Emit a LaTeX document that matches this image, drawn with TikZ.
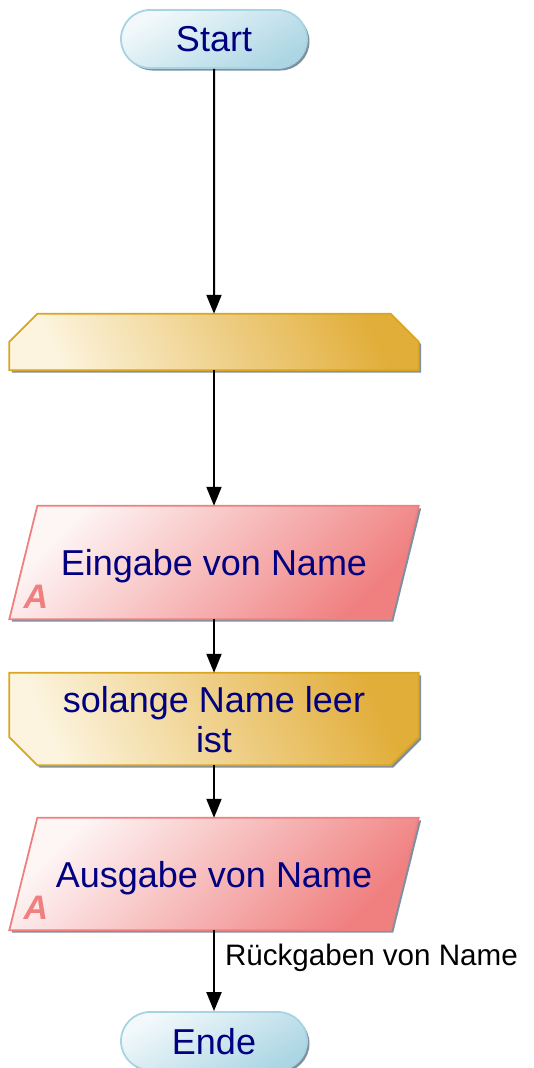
\documentclass[tikz,border=0pt]{standalone}
\usepackage{fontspec}
\setmainfont{Liberation Sans}
\usetikzlibrary{shapes.misc,shadows,arrows.meta,backgrounds}
\definecolor{navy}{RGB}{0,0,128}
\definecolor{termline}{RGB}{166,212,226}
\definecolor{termdark}{RGB}{172,214,228}
\definecolor{loopline}{RGB}{218,165,32}
\definecolor{looplight}{RGB}{252,244,222}
\definecolor{loopmid}{RGB}{238,211,142}
\definecolor{loopdark}{RGB}{226,174,58}
\definecolor{ioline}{RGB}{240,128,128}
\definecolor{shadowgray}{RGB}{128,144,160}
\tikzset{
  shadowed/.style={drop shadow={shadow xshift=2.5pt,shadow yshift=-2.5pt,fill=shadowgray,opacity=1}},
  slot/.style={rectangle,inner sep=0pt,text=navy,font=\fontsize{36}{40}\selectfont,align=center,text depth=0pt,
    minimum width=409pt},
  term/.style={slot,rounded rectangle,draw=termline,line width=1.8pt,shadowed,
    top color=white!85!termdark,bottom color=termdark,shading angle=30,minimum width=186pt,minimum height=58pt},
  loopshape/.style={draw=loopline,line width=1.8pt,shadowed,
    left color=looplight,middle color=loopmid,right color=loopdark,shading angle=115},
  ioshape/.style={draw=ioline,line width=1.8pt,shadowed,
    top color=white!92!ioline,bottom color=ioline,shading angle=45},
  flow/.style={line width=2pt,-{Triangle[length=19pt,width=15pt]}},
  amark/.style={text=ioline,font=\fontsize{34}{40}\selectfont\bfseries\itshape,inner sep=0pt,anchor=base west},
}
\begin{document}
\begin{tikzpicture}[x=1pt,y=1pt]
\useasboundingbox (0,0) rectangle (533,-1068);
%
\node[term] (start) at (214,-39) {Start};
\node[slot,minimum height=56pt] (loopA) at (214,-342) {};
\node[slot,minimum height=113pt] (in) at (214,-562.5) {Eingabe von Name};
\node[amark] (inA) at ([xshift=14pt,yshift=11pt]in.south west) {A};
\node[slot,minimum height=92pt] (loopB) at (214,-719) {solange Name leer\\ist};
\node[slot,minimum height=112pt] (out) at (214,-874) {Ausgabe von Name};
\node[amark] (outA) at ([xshift=14pt,yshift=11pt]out.south west) {A};
\node[term] (ende) at (214,-1041) {Ende};
%
\begin{scope}[on background layer]
\path[loopshape] ([yshift=-28pt]loopA.north west) -- ([xshift=28pt]loopA.north west)
  -- ([xshift=-28pt]loopA.north east) -- ([yshift=-28pt]loopA.north east)
  -- (loopA.south east) -- (loopA.south west) -- cycle;
\path[loopshape] (loopB.north west) -- (loopB.north east) -- ([yshift=28pt]loopB.south east)
  -- ([xshift=-28pt]loopB.south east) -- ([xshift=28pt]loopB.south west)
  -- ([yshift=28pt]loopB.south west) -- cycle;
\foreach \n in {in,out}
  \path[ioshape] ([xshift=28pt]\n.north west) -- (\n.north east)
    -- ([xshift=-28pt]\n.south east) -- (\n.south west) -- cycle;
\end{scope}
%
\draw[flow] (start) -- (loopA);
\draw[flow] (loopA) -- (in);
\draw[flow] (in) -- (loopB);
\draw[flow] (loopB) -- (out);
\draw[flow] (out) -- node[pos=0.34,anchor=west,xshift=10pt,inner sep=0pt,font=\fontsize{29.6}{34}\selectfont] (ret) {Rückgaben von Name} (ende);
\end{tikzpicture}
\end{document}
